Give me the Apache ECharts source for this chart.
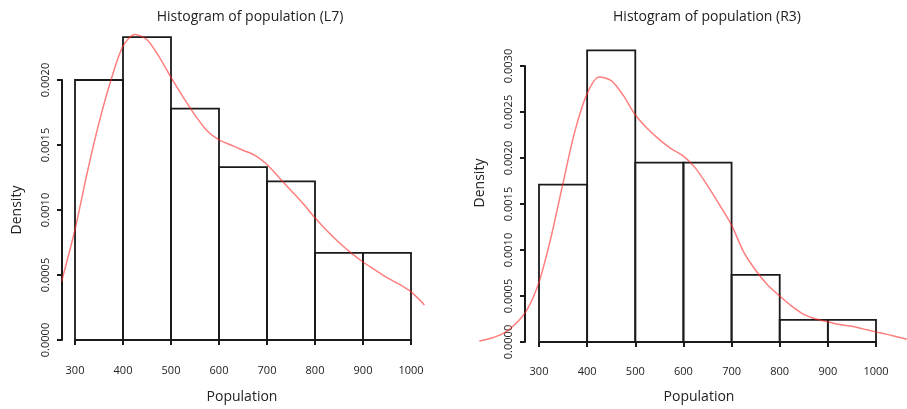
<!DOCTYPE html>
<html>
<head>
<meta charset="utf-8">
<title>Histogram of population</title>
<script src="https://cdn.jsdelivr.net/npm/echarts@6/dist/echarts.min.js"></script>
<style>
  html, body { margin: 0; padding: 0; background: #fff; }
  #chart { width: 907px; height: 409px; }
</style>
</head>
<body>
<div id="chart"></div>
<script>
// histogram breaks (shared by both panels)
const breaks = [300, 400, 500, 600, 700, 800, 900, 1000]
const xTicks = [300, 400, 500, 600, 700, 800, 900, 1000]

// L7 panel
const densL7 = [0.00200, 0.00233, 0.00178, 0.00133, 0.00122, 0.00067, 0.00067]
const curveXL7 = [272, 300, 325, 350, 375, 400, 425, 450, 475, 500, 525, 550, 575, 600, 625, 650, 675, 700, 725, 750, 775, 800, 825, 850, 875, 900, 925, 950, 975, 1000, 1028]
const curveYL7 = [0.00045, 0.00085, 0.00128, 0.00167, 0.00200, 0.00226, 0.00235, 0.00231, 0.00218, 0.00202, 0.00187, 0.00173, 0.00161, 0.00154, 0.00150, 0.00146, 0.00142, 0.00135, 0.00125, 0.00115, 0.00105, 0.00094, 0.00084, 0.00075, 0.00067, 0.00060, 0.00054, 0.00048, 0.00043, 0.00037, 0.00027]
const yTicksL7 = [0, 0.0005, 0.0010, 0.0015, 0.0020]

// R3 panel
const densR3 = [0.00171, 0.00317, 0.00195, 0.00195, 0.00073, 0.00024, 0.00024]
const curveXR3 = [176, 200, 225, 250, 275, 300, 325, 350, 375, 400, 425, 450, 475, 500, 525, 550, 575, 600, 625, 650, 675, 700, 725, 750, 775, 800, 825, 850, 875, 900, 925, 950, 975, 1000, 1025, 1050, 1064]
const curveYR3 = [0.00001, 0.00004, 0.00009, 0.00019, 0.00035, 0.00065, 0.00114, 0.00173, 0.00230, 0.00270, 0.00288, 0.00284, 0.00268, 0.00247, 0.00232, 0.00220, 0.00210, 0.00202, 0.00189, 0.00170, 0.00149, 0.00127, 0.00098, 0.00078, 0.00062, 0.00050, 0.00039, 0.00030, 0.00025, 0.00022, 0.00019, 0.00017, 0.00014, 0.00011, 0.00008, 0.00005, 0.00003]
const yTicksR3 = [0, 0.0005, 0.0010, 0.0015, 0.0020, 0.0025, 0.0030]

const font = '"Open Sans", "DejaVu Sans", sans-serif'
const ink = '#1a1a1a'

function binData (dens) {
  return dens.map((d, i) => [breaks[i], breaks[i + 1], d])
}
function pairs (xs, ys) {
  return xs.map((x, i) => [x, ys[i]])
}

function renderBin (params, api) {
  const p0 = api.coord([api.value(0), api.value(2)])
  const p1 = api.coord([api.value(1), 0])
  return {
    type: 'rect',
    shape: { x: p0[0], y: p0[1], width: p1[0] - p0[0], height: p1[1] - p0[1] },
    style: { fill: 'none', stroke: ink, lineWidth: 1.8 }
  }
}

// visible axes: span only the tick range, like R's axis()
function xAxisOpt (gridIndex, offset) {
  return {
    gridIndex: gridIndex,
    type: 'value',
    min: xTicks[0],
    max: xTicks[xTicks.length - 1],
    interval: 100,
    position: 'bottom',
    offset: offset,
    axisLine: { lineStyle: { color: ink, width: 2 } },
    axisTick: { length: 5, lineStyle: { color: ink, width: 2 } },
    axisLabel: { color: '#222', fontSize: 11, fontFamily: font, margin: 11, formatter: v => String(v) },
    splitLine: { show: false }
  }
}

function yAxisOpt (gridIndex, ticks, offset) {
  return {
    gridIndex: gridIndex,
    type: 'value',
    min: 0,
    max: ticks[ticks.length - 1],
    interval: 0.0005,
    offset: offset,
    axisLine: { show: true, lineStyle: { color: ink, width: 2 } },
    axisTick: { show: true, length: 5, lineStyle: { color: ink, width: 2 } },
    axisLabel: {
      color: '#222',
      fontSize: 11,
      fontFamily: font,
      rotate: 90,
      margin: 11,
      formatter: v => v.toFixed(4)
    },
    splitLine: { show: false }
  }
}

// hidden axes for the plotting region (same scale as the visible ones)
function hiddenAxis (gridIndex, min, max) {
  return { gridIndex: gridIndex, type: 'value', min: min, max: max, show: false, splitLine: { show: false } }
}

const chart = echarts.init(document.getElementById('chart'), null, { renderer: 'canvas' })

chart.setOption({
  backgroundColor: '#fff',
  animation: false,
  title: [
    { text: 'Histogram of population (L7)', left: 245, top: 5, textAlign: 'center',
      textStyle: { fontSize: 14, fontWeight: 'normal', color: '#222', fontFamily: font } },
    { text: 'Histogram of population (R3)', left: 702, top: 5, textAlign: 'center',
      textStyle: { fontSize: 14, fontWeight: 'normal', color: '#222', fontFamily: font } }
  ],
  grid: [
    { left: 75, right: 496, top: 80, bottom: 69 },
    { left: 539, right: 31, top: 66, bottom: 67 },
    { left: 61.56, right: 482.56, top: 15, bottom: 69 },
    { left: 479.3, right: 0.19, top: 20, bottom: 67 }
  ],
  xAxis: [
    xAxisOpt(0, 14),
    xAxisOpt(1, 13),
    hiddenAxis(2, 272, 1028),
    hiddenAxis(3, 176, 1064)
  ],
  yAxis: [
    yAxisOpt(0, yTicksL7, 13),
    yAxisOpt(1, yTicksR3, 14),
    hiddenAxis(2, 0, 0.0025),
    hiddenAxis(3, 0, 0.0035)
  ],
  graphic: [
    { type: 'text', x: 17, y: 210, rotation: Math.PI / 2,
      style: { text: 'Density', fill: '#222', font: '14px ' + font, align: 'center', verticalAlign: 'middle' } },
    { type: 'text', x: 480, y: 183, rotation: Math.PI / 2,
      style: { text: 'Density', fill: '#222', font: '14px ' + font, align: 'center', verticalAlign: 'middle' } },
    { type: 'text', x: 242, y: 397,
      style: { text: 'Population', fill: '#222', font: '14px ' + font, align: 'center', verticalAlign: 'middle' } },
    { type: 'text', x: 699, y: 397,
      style: { text: 'Population', fill: '#222', font: '14px ' + font, align: 'center', verticalAlign: 'middle' } }
  ],
  series: [
    {
      type: 'custom',
      xAxisIndex: 2,
      yAxisIndex: 2,
      clip: false,
      renderItem: renderBin,
      encode: { x: [0, 1], y: 2 },
      data: binData(densL7),
      z: 2
    },
    {
      type: 'line',
      xAxisIndex: 2,
      yAxisIndex: 2,
      smooth: 0.3,
      showSymbol: false,
      lineStyle: { color: 'rgba(255, 40, 40, 0.6)', width: 1.5 },
      data: pairs(curveXL7, curveYL7),
      z: 3
    },
    {
      type: 'custom',
      xAxisIndex: 3,
      yAxisIndex: 3,
      clip: false,
      renderItem: renderBin,
      encode: { x: [0, 1], y: 2 },
      data: binData(densR3),
      z: 2
    },
    {
      type: 'line',
      xAxisIndex: 3,
      yAxisIndex: 3,
      smooth: 0.3,
      showSymbol: false,
      lineStyle: { color: 'rgba(255, 40, 40, 0.6)', width: 1.5 },
      data: pairs(curveXR3, curveYR3),
      z: 3
    }
  ]
})
</script>
</body>
</html>
